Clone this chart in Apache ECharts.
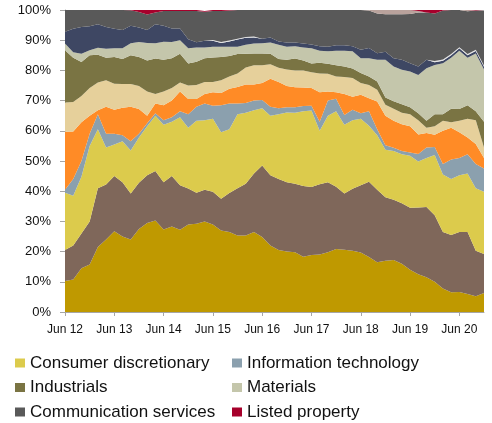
<!DOCTYPE html>
<html>
<head>
<meta charset="utf-8" />
<title>Sector weights</title>
<script src="https://cdn.jsdelivr.net/npm/echarts/dist/echarts.min.js"></script>
<style>
  html, body { margin: 0; padding: 0; background: #fff; }
</style>
</head>
<body>
<div id="main" style="width: 492px;height:423px;"></div>
<script type="text/javascript">
// bi-monthly points, Jun 12 .. Dec 20
var months = [
  'Jun 12', 'Aug 12', 'Oct 12', 'Dec 12',
  'Feb 13', 'Apr 13', 'Jun 13', 'Aug 13', 'Oct 13', 'Dec 13',
  'Feb 14', 'Apr 14', 'Jun 14', 'Aug 14', 'Oct 14', 'Dec 14',
  'Feb 15', 'Apr 15', 'Jun 15', 'Aug 15', 'Oct 15', 'Dec 15',
  'Feb 16', 'Apr 16', 'Jun 16', 'Aug 16', 'Oct 16', 'Dec 16',
  'Feb 17', 'Apr 17', 'Jun 17', 'Aug 17', 'Oct 17', 'Dec 17',
  'Feb 18', 'Apr 18', 'Jun 18', 'Aug 18', 'Oct 18', 'Dec 18',
  'Feb 19', 'Apr 19', 'Jun 19', 'Aug 19', 'Oct 19', 'Dec 19',
  'Feb 20', 'Apr 20', 'Jun 20', 'Aug 20', 'Oct 20', 'Dec 20'
];

// shares in % (bottom of the stack first)
var financials = [10.3, 10.8, 14.5, 15.7, 21.5, 24, 26.7, 25, 24, 27.5,
  29.5, 30.3, 27.3, 28.3, 27.2, 29, 29.2, 30, 29, 27,
  26.5, 25.3, 25.3, 26.5, 24.8, 22, 20.5, 20, 19.8, 18.3,
  18.9, 19, 19.8, 20.9, 20.6, 20.3, 19.7, 18.2, 16.5, 17,
  17.2, 16, 14, 12.5, 11.5, 10, 7.8, 6.5, 6.6, 6,
  5.2, 6.3];
var staples = [10.2, 11.2, 11.5, 14.3, 19.5, 18.2, 18.3, 18, 15.2, 15.3,
  15.8, 16.4, 15.7, 16.7, 14.8, 11.9, 10.3, 10.5, 10.8, 10.5,
  12.9, 15.7, 17.2, 19.4, 23.7, 23.3, 23.5, 23, 22.7, 23.4,
  22.5, 23.3, 23.2, 20.6, 18.6, 20.5, 22.3, 24.9, 24, 21,
  20, 20, 20.5, 22.1, 23.3, 22, 18.7, 19, 19.9, 20.5,
  15.1, 12.9];
var discretionary = [19, 16.5, 18.8, 25, 19.5, 12.3, 10.5, 13.5, 14.3, 15,
  16.2, 18.3, 19, 18, 22.5, 20.1, 23.8, 23, 24.2, 22,
  21.1, 24.5, 23.5, 20.9, 19, 19.7, 21.5, 23.1, 23.5, 24.8,
  25.3, 17.7, 22, 25, 22.8, 22.7, 22, 18.6, 18, 15.7,
  16.1, 16.2, 17.2, 15.2, 16.2, 20, 19, 18.5, 18.8, 19.4,
  20.7, 20.6];
var infoTech = [1, 5.5, 5.2, 4, 5, 4.5, 3.5, 2, 3, 1.2,
  1, 0.8, 1.5, 1.5, 2, 4.5, 4.7, 5.5, 4.3, 9,
  8.5, 3.5, 3.2, 3.2, 2.7, 3, 2, 1.7, 1.8, 1.7,
  1.6, 3, 5, 4.1, 3.2, 3.5, 1.8, 4.8, 2, 1.5,
  1.1, 1.1, 1.1, 2.5, 3.5, 2.6, 3.5, 6.5, 5.7, 6.3,
  8, 7.7];
var healthCare = [19.2, 15.8, 12.8, 6, 1.3, 9, 8, 9.1, 11.5, 8.2,
  2.5, 3.2, 5, 5.5, 6.5, 5, 2.5, 3.2, 4.5, 4,
  4.9, 5.5, 6.1, 5.3, 5.6, 9.2, 8.7, 7, 6.6, 6.1,
  5.9, 9.8, 3, 2.2, 7, 4.3, 6.1, 4.3, 9.2, 9.8,
  8.9, 8.9, 8.7, 6.5, 4.8, 4.1, 11, 10.5, 8.5, 5.6,
  6.6, 3.5];
var energy = [9.7, 9.7, 8.7, 9.2, 9.2, 8.7, 8.6, 7.9, 7.5, 7.6,
  8, 3.2, 4.5, 4.2, 3, 4.5, 4.7, 4, 3.4, 4.2,
  4.1, 4.5, 5.7, 6.4, 5.9, 4.8, 4.7, 5.5, 5.6, 5.7,
  5.2, 6.2, 5.9, 5.2, 5.6, 6.2, 3.9, 4.4, 3.9, 3.6,
  4, 3.8, 4, 4.7, 1.7, 2.8, 3.3, 1.8, 3.8, 6.2,
  7.9, 3.5];
var industrials = [17.3, 14.7, 11.3, 10.8, 9.2, 7.5, 8.8, 8.3, 9.5, 9.6,
  10.3, 11.7, 10.5, 9.8, 9.5, 7.3, 7.7, 7.8, 8.1, 7.7,
  6.8, 6.4, 4.5, 3.9, 3.9, 3.5, 2.9, 3.2, 3.9, 3.3,
  2.9, 3.5, 3.3, 3.7, 3.5, 3.1, 3.3, 2.8, 2.7, 2.4,
  2.5, 2.8, 2.3, 2.3, 2.3, 4, 2.2, 4.5, 3.9, 4.5,
  3, 8.5];
var materials = [2.2, 1.8, 2.7, 1.7, 2.3, 3, 2.9, 3.5, 4, 5,
  5.8, 5.1, 6, 5.4, 4.5, 5, 4.7, 3.6, 3.5, 3.4,
  3, 2.4, 3, 3.3, 3.4, 3.7, 4.7, 4.3, 4.1, 4.3,
  5, 4, 4.1, 4.8, 5.2, 5.7, 4.9, 6, 7.2, 12.5,
  11.5, 11.4, 11.8, 12.7, 17.4, 16.3, 16.9, 16.9, 19.3, 15.7,
  19.1, 17.3];
var utilities = [3.9, 7.8, 8.9, 7.9, 7.8, 7.2, 6.5, 6.1, 5.8, 4.8,
  4.3, 6.3, 5.3, 4.5, 3.9, 3, 1.7, 2.2, 2, 1.3,
  1.8, 2.4, 2.3, 2, 1.5, 1.7, 1.1, 1.4, 1.2, 1.3,
  1.3, 1.5, 1.5, 1.8, 1.8, 1.7, 2.8, 3.4, 2.2, 2.7,
  2.7, 3.3, 2.8, 2.8, 2.8, 0.9, 0.8, 0.8, 0.8, 0.8,
  0.8, 0.8];
var cash = [0, 0, 0, 0, 0, 0, 0, 0, 0, 0,
  0, 0, 0, 0, 0, 0, 0, 0, 0.3, 0.3,
  0.3, 0.3, 0.3, 0.3, 0, 0, 0, 0, 0, 0,
  0, 0, 0, 0, 0, 0, 0, 0, 0, 0,
  0, 0, 0, 0, 0, 0.4, 0.4, 0.4, 0.4, 0.4,
  0.4, 0.4];
var communication = [7.2, 6.2, 5.6, 5.4, 4.7, 5.6, 6.2, 6.6, 5.1, 5.1,
  5.1, 3.9, 4.9, 5.8, 5.8, 9.4, 10.4, 9.6, 9.6, 10.3,
  9.9, 9.5, 8.9, 8.8, 9.5, 9.1, 10.4, 10.8, 10.8, 11.1,
  11.4, 12, 12.2, 11.7, 11.7, 12, 13.2, 12.4, 13.1, 12.4,
  14.6, 15.1, 16.3, 17.9, 15.7, 15.7, 16.2, 14.6, 12.3, 14.2,
  13, 18.3];
var realEstate = [0, 0, 0, 0, 0, 0, 0, 0, 0, 0,
  0, 0, 0, 0, 0, 0, 0, 0, 0, 0,
  0, 0, 0, 0, 0, 0, 0, 0, 0, 0,
  0, 0, 0, 0, 0, 0, 0, 0.2, 1.2, 1.4,
  1.4, 1.4, 1.3, 0.5, 0, 0, 0, 0, 0, 0.4,
  0, 0];
var listedProperty = [0, 0, 0, 0, 0, 0, 0, 0, 0.1, 0.7,
  1.5, 0.8, 0.3, 0.3, 0.3, 0.3, 0.3, 0.3, 0.3, 0.3,
  0.2, 0, 0, 0, 0, 0, 0, 0, 0, 0,
  0, 0, 0, 0, 0, 0, 0, 0, 0, 0,
  0, 0, 0, 0.3, 0.8, 1.2, 0.2, 0, 0, 0,
  0.2, 0.2];

var seriesList = [
  ['Financials', financials, '#BF9900'],
  ['Consumer staples', staples, '#7F675A'],
  ['Consumer discretionary', discretionary, '#DCCB4C'],
  ['Information technology', infoTech, '#8BA0AE'],
  ['Health care', healthCare, '#FF8B26'],
  ['Energy', energy, '#E6D09B'],
  ['Industrials', industrials, '#7A7443'],
  ['Materials', materials, '#C4C6AB'],
  ['Utilities', utilities, '#3E4763'],
  ['Cash', cash, '#E4E4E4'],
  ['Communication services', communication, '#595959'],
  ['Real estate', realEstate, '#B9A29C'],
  ['Listed property', listedProperty, '#A6002B']
];

var myChart = echarts.init(document.getElementById('main'));

var showYear = function(idx) { return idx % 6 === 0; };
var font = 'Liberation Sans';

var legendBase = {
  orient: 'vertical',
  top: 354,
  padding: 0,
  icon: 'rect',
  itemWidth: 10,
  itemHeight: 9,
  itemGap: 6.5,
  textStyle: { fontFamily: font, fontSize: 17, lineHeight: 18, color: '#111' }
};

var option = {
  animation: false,
  color: seriesList.map(function(s) { return s[2]; }),
  grid: { left: 65, right: 8, top: 10, bottom: 111 },
  legend: [
    Object.assign({}, legendBase, {
      left: 15,
      data: ['Consumer discretionary', 'Industrials', 'Communication services']
    }),
    Object.assign({}, legendBase, {
      left: 232,
      data: ['Information technology', 'Materials', 'Listed property']
    })
  ],
  xAxis: {
    type: 'category',
    boundaryGap: false,
    data: months,
    axisLine: { lineStyle: { color: '#A6A6A6' } },
    axisTick: { show: true, interval: showYear, length: 4, lineStyle: { color: '#A6A6A6' } },
    axisLabel: { interval: showYear, margin: 12, fontFamily: font, fontSize: 12, color: '#111' },
    splitLine: { show: false }
  },
  yAxis: {
    type: 'value',
    min: 0,
    max: 100,
    interval: 10,
    axisLine: { show: true, lineStyle: { color: '#A6A6A6' } },
    axisTick: { show: true, length: 5, lineStyle: { color: '#A6A6A6' } },
    axisLabel: { formatter: '{value}%', margin: 14, fontFamily: font, fontSize: 13, color: '#111' },
    splitLine: { show: false }
  },
  series: seriesList.map(function(s) {
    return {
      name: s[0],
      type: 'line',
      stack: 'total',
      data: s[1],
      symbol: 'none',
      lineStyle: { width: 0 },
      areaStyle: { opacity: 1 }
    };
  })
};

myChart.setOption(option);
</script>
</body>
</html>
